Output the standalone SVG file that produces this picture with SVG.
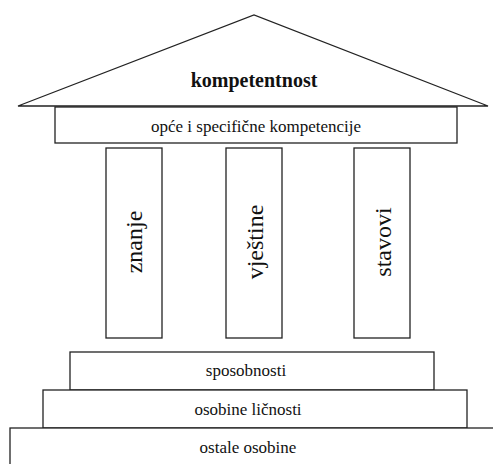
<svg xmlns="http://www.w3.org/2000/svg" width="493" height="464" viewBox="0 0 493 464">
<style>
.s{fill:#fff;stroke:#222;stroke-width:1.3}
text{font-family:'Liberation Serif','Times New Roman',serif;fill:#111;text-anchor:middle}
</style>
<rect width="493" height="464" fill="#fff"/>
<g id="roof">
<polygon class="s" points="18,106 254,15 488,106" stroke-width="1.6"/>
<text x="254" y="87" font-size="20" font-weight="bold" font-family="Liberation Serif, serif">kompetentnost</text>
</g>
<g id="band">
<rect class="s" x="55" y="107" width="402" height="36"/>
<text x="256" y="132" font-size="17" font-family="Liberation Serif, serif">opće i specifične kompetencije</text>
</g>
<g id="col-znanje">
<rect class="s" x="106" y="148" width="56" height="190"/>
<text font-size="24" font-family="Liberation Serif, serif" transform="translate(142,242) rotate(-90)">znanje</text>
</g>
<g id="col-vjestine">
<rect class="s" x="226" y="148" width="56" height="190"/>
<text font-size="24" font-family="Liberation Serif, serif" transform="translate(263,242) rotate(-90)">vještine</text>
</g>
<g id="col-stavovi">
<rect class="s" x="354" y="148" width="56" height="190"/>
<text font-size="24" font-family="Liberation Serif, serif" transform="translate(391,242) rotate(-90)">stavovi</text>
</g>
<g id="step-sposobnosti">
<rect class="s" x="70" y="352" width="364" height="38"/>
<text x="246" y="376" font-size="17" font-family="Liberation Serif, serif">sposobnosti</text>
</g>
<g id="step-osobine-licnosti">
<rect class="s" x="43" y="390" width="424" height="38"/>
<text x="248" y="415" font-size="17" font-family="Liberation Serif, serif">osobine ličnosti</text>
</g>
<g id="step-ostale-osobine">
<rect class="s" x="10" y="428" width="490" height="50"/>
<text x="248" y="453" font-size="17" font-family="Liberation Serif, serif">ostale osobine</text>
</g>
<g id="connectors"></g>
</svg>
